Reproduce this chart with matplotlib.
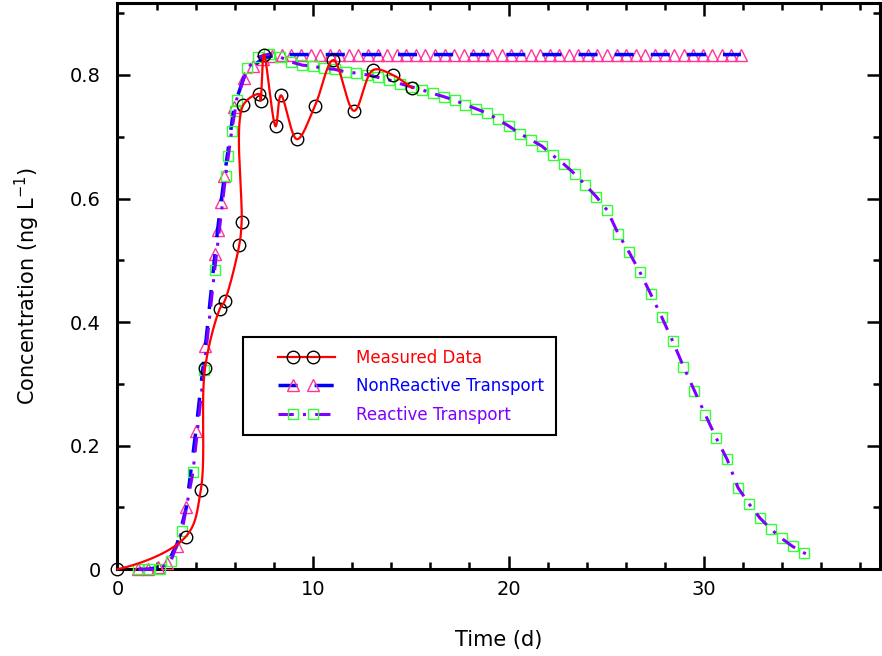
import numpy as np
import matplotlib
matplotlib.use("Agg")
import matplotlib.pyplot as plt
from matplotlib.lines import Line2D
from matplotlib.legend_handler import HandlerBase
from matplotlib.ticker import MultipleLocator

# ---------------- data ----------------
meas_t = [0.0, 3.50, 4.26, 4.48, 5.24, 5.48, 6.23, 6.35, 6.43, 7.25, 7.32,
          7.49, 8.09, 8.36, 9.18, 10.10, 11.04, 12.10, 13.08, 14.08, 15.06]
meas_c = [0.0, 0.053, 0.128, 0.326, 0.422, 0.434, 0.525, 0.562, 0.751, 0.769,
          0.758, 0.833, 0.717, 0.767, 0.696, 0.750, 0.824, 0.742, 0.808, 0.800,
          0.779]

nonreact_t = [1.07, 1.56, 2.05, 2.54, 3.03, 3.52, 4.01, 4.50, 4.99, 5.12, 5.30,
              5.47, 5.96, 6.45, 6.94, 7.43, 7.92,
              8.41, 8.90, 9.39, 9.88, 10.37, 10.86, 11.35, 11.83, 12.32, 12.81,
              13.30, 13.79, 14.28, 14.77, 15.26, 15.75, 16.24, 16.73, 17.22,
              17.71, 18.19, 18.68, 19.17, 19.66, 20.15, 20.64, 21.13, 21.62,
              22.11, 22.60, 23.09, 23.57, 24.06, 24.55, 25.04, 25.53, 26.02,
              26.51, 27.00, 27.49, 27.98, 28.47, 28.96, 29.45, 29.93, 30.42,
              30.91, 31.40, 31.89]
nonreact_c = [0.0, 0.0, 0.003, 0.010, 0.038, 0.100, 0.224, 0.362, 0.511, 0.549,
              0.595, 0.636, 0.748, 0.795, 0.815, 0.826, 0.831,
              0.833, 0.833, 0.833, 0.833, 0.833, 0.833, 0.833, 0.833, 0.833,
              0.833, 0.833, 0.833, 0.833, 0.833, 0.833, 0.833, 0.833, 0.833,
              0.833, 0.833, 0.833, 0.833, 0.833, 0.833, 0.833, 0.833, 0.833,
              0.833, 0.833, 0.833, 0.833, 0.833, 0.833, 0.833, 0.833, 0.833,
              0.833, 0.833, 0.833, 0.833, 0.833, 0.833, 0.833, 0.833, 0.833,
              0.833, 0.833, 0.833, 0.833]

react_t = [1.07, 1.63, 2.18, 2.74, 3.30, 3.86, 4.42, 4.97, 5.53, 5.67, 5.84,
           6.01, 6.09, 6.65, 7.20, 7.76, 8.32, 8.88, 9.44, 9.99, 10.55, 11.11,
           11.67, 12.22, 12.78, 13.34, 13.90, 14.45, 15.01, 15.57, 16.13,
           16.68, 17.24, 17.80, 18.36, 18.92, 19.47, 20.03, 20.59, 21.15,
           21.70, 22.26, 22.82, 23.38, 23.93, 24.49, 25.05, 25.61, 26.17,
           26.72, 27.28, 27.84, 28.40, 28.95, 29.51, 30.07, 30.63, 31.18,
           31.74, 32.30, 32.86, 33.42, 33.97, 34.53, 35.09, 35.39]
react_c = [0.0, 0.0, 0.001, 0.014, 0.062, 0.157, 0.322, 0.484, 0.636, 0.669,
           0.709, 0.742, 0.760, 0.811, 0.829, 0.834, 0.829, 0.821, 0.816,
           0.814, 0.811, 0.809, 0.805, 0.803, 0.800, 0.796, 0.792, 0.786,
           0.781, 0.776, 0.770, 0.765, 0.759, 0.752, 0.745, 0.738, 0.728,
           0.717, 0.705, 0.695, 0.685, 0.670, 0.656, 0.640, 0.622, 0.603,
           0.581, 0.543, 0.513, 0.481, 0.445, 0.408, 0.369, 0.328, 0.289,
           0.250, 0.212, 0.178, 0.132, 0.106, 0.083, 0.065, 0.050, 0.037,
           0.027, 0.022]

labels = ["Measured Data", "NonReactive Transport", "Reactive Transport"]

RED = "#ff0000"
BLUE = "#0000ff"
PURPLE = "#8000ff"
PINK = "#ff3399"
GREEN = "#33ff33"

plt.rcParams["font.family"] = ["DejaVu Sans"]


def smooth_curve(x, y, sx, sy, n=40, alpha=0.5):
    """Centripetal Catmull-Rom spline through the measured points."""
    P = np.column_stack([np.asarray(x) * sx, np.asarray(y) * sy])
    d0 = np.linalg.norm(P[1] - P[0])
    start = P[0] - np.array([d0, 0.0])          # horizontal start tangent
    P = np.vstack([start, P, 2 * P[-1] - P[-2]])
    out = []
    for i in range(1, len(P) - 2):
        p0, p1, p2, p3 = P[i - 1], P[i], P[i + 1], P[i + 2]
        t0 = 0.0
        t1 = t0 + np.linalg.norm(p1 - p0) ** alpha
        t2 = t1 + np.linalg.norm(p2 - p1) ** alpha
        t3 = t2 + np.linalg.norm(p3 - p2) ** alpha
        t = np.linspace(t1, t2, n)[:, None]
        A1 = (t1 - t) / (t1 - t0) * p0 + (t - t0) / (t1 - t0) * p1
        A2 = (t2 - t) / (t2 - t1) * p1 + (t - t1) / (t2 - t1) * p2
        A3 = (t3 - t) / (t3 - t2) * p2 + (t - t2) / (t3 - t2) * p3
        B1 = (t2 - t) / (t2 - t0) * A1 + (t - t0) / (t2 - t0) * A2
        B2 = (t3 - t) / (t3 - t1) * A2 + (t - t1) / (t3 - t1) * A3
        C = (t2 - t) / (t2 - t1) * B1 + (t - t1) / (t2 - t1) * B2
        out.append(C if i == len(P) - 3 else C[:-1])
    C = np.vstack(out)
    return C[:, 0] / sx, C[:, 1] / sy


fig = plt.figure(figsize=(8.82, 6.56), dpi=100)
ax = fig.add_axes([0.1332, 0.1322, 0.8645, 0.8628])

# Non-reactive transport
blue_ls = (0, (5.5, 4.9))
ax.plot(nonreact_t, nonreact_c, ls="None", marker="^", ms=8.3, mfc="none",
        mec=PINK, mew=1.0, clip_on=False, zorder=3)
ax.plot(nonreact_t, nonreact_c, color=BLUE, lw=2.5, ls=blue_ls,
        clip_on=False, zorder=4)

# Reactive transport
purple_ls = (0, (5, 3, 1.0, 3))
ax.plot(react_t[:-1], react_c[:-1], ls="None", marker="s", ms=7.6, mfc="none",
        mec=GREEN, mew=1.0, clip_on=False, zorder=5)
ax.plot(react_t, react_c, color=PURPLE, lw=2.2, ls=purple_ls,
        clip_on=False, zorder=6)

# Measured data
sx_, sy_ = 19.55, 618.0
mx, my = smooth_curve(meas_t, meas_c, sx_, sy_)
ax.plot(meas_t, meas_c, ls="None", marker="o", ms=9, mfc="none", mec="black",
        mew=1.0, clip_on=False, zorder=7)
ax.plot(mx, my, color=RED, lw=1.6, clip_on=False, zorder=8)

ax.set_xlim(0, 39.0)
ax.set_ylim(0, 0.916)
ax.xaxis.set_major_locator(MultipleLocator(10))
ax.xaxis.set_minor_locator(MultipleLocator(2))
ax.yaxis.set_major_locator(MultipleLocator(0.2))
ax.yaxis.set_minor_locator(MultipleLocator(0.1))
ax.xaxis.set_major_formatter(plt.FuncFormatter(lambda v, p: f"{v:g}"))
ax.yaxis.set_major_formatter(plt.FuncFormatter(lambda v, p: f"{v:g}"))

for s in ax.spines.values():
    s.set_linewidth(2.2)
ax.tick_params(which="both", direction="in", top=True, right=True,
               width=1.8, labelsize=14)
ax.tick_params(which="major", length=9.4)
ax.tick_params(which="minor", length=4.7)
ax.tick_params(axis="x", pad=8)
ax.tick_params(axis="y", pad=12)

ax.set_xlabel("Time (d)", fontsize=15, labelpad=22)
ax.set_ylabel("Concentration (ng L$^{\\mathregular{-1}}$)", fontsize=15,
              labelpad=20)


class OffsetHandler(HandlerBase):
    def create_artists(self, legend, orig_handle, xdescent, ydescent, width,
                       height, fontsize, trans):
        x0 = -xdescent
        y = (height - ydescent) / 2.0
        line = Line2D([x0 + 0.29 * width, x0 + width], [y, y])
        line.update_from(orig_handle)
        line.set_marker("None")
        mk = Line2D([x0 + 0.48 * width, x0 + 0.73 * width], [y, y])
        mk.update_from(orig_handle)
        mk.set_linestyle("None")
        line.set_transform(trans)
        mk.set_transform(trans)
        return [line, mk]


h1 = Line2D([], [], color=RED, lw=1.6, marker="o", ms=9, mfc="none",
            mec="black", mew=1.0)
h2 = Line2D([], [], color=BLUE, lw=2.5, ls=blue_ls, marker="^", ms=8.3,
            mfc="none", mec=PINK, mew=1.0)
h3 = Line2D([], [], color=PURPLE, lw=2.2, ls=purple_ls, marker="s", ms=7.6,
            mfc="none", mec=GREEN, mew=1.0)
hmap = {h: OffsetHandler() for h in (h1, h2, h3)}
leg = ax.legend([h1, h2, h3], labels, handler_map=hmap, loc="upper left",
                bbox_to_anchor=(0.1646, 0.41), borderaxespad=0.0,
                fontsize=12, handlelength=4.8, handletextpad=1.3,
                borderpad=0.7, labelspacing=0.62, fancybox=False,
                framealpha=1.0, edgecolor="black")
leg.get_frame().set_linewidth(1.5)
for txt, col in zip(leg.get_texts(), [RED, BLUE, PURPLE]):
    txt.set_color(col)

fig.savefig("out.png", dpi=100)
